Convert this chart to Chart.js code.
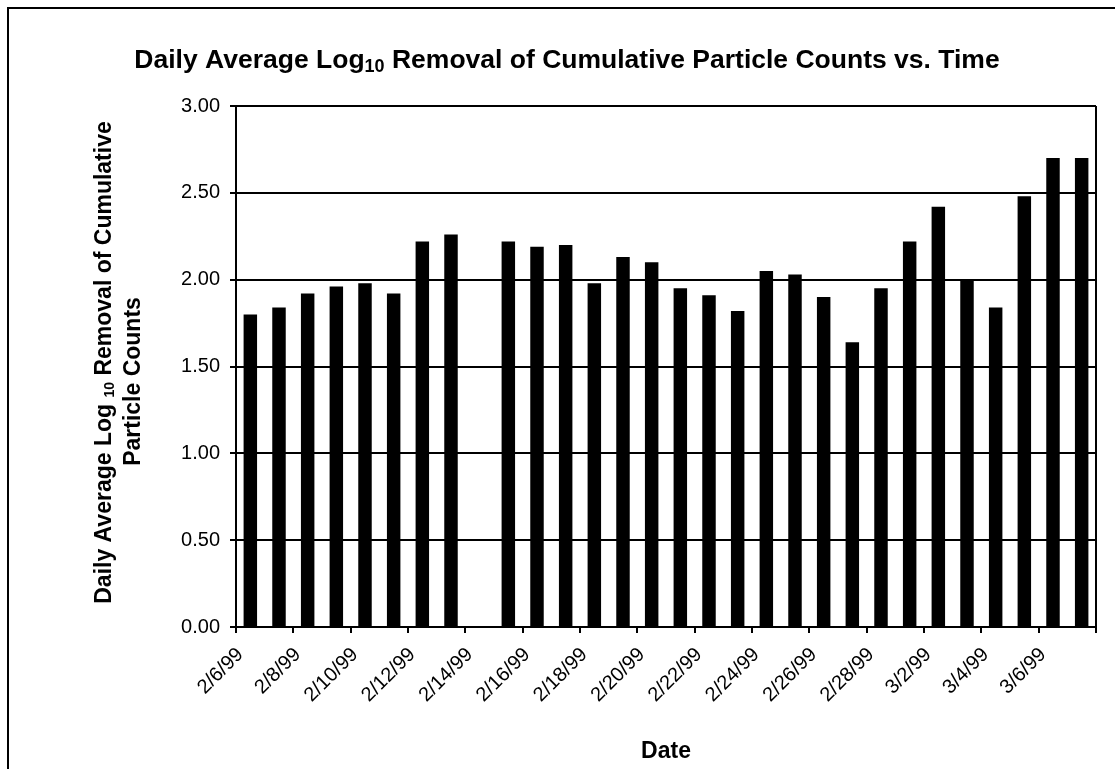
<!DOCTYPE html>
<html>
<head>
<meta charset="utf-8">
<script src="https://cdn.jsdelivr.net/npm/chart.js@4.4.0/dist/chart.umd.min.js"></script>
<style>
    html, body { margin: 0; padding: 0; background: #fff; }
    #cadre { width: 1115px; height: 769px; }
</style>
</head>
<body>
<div id="cadre"><canvas id="graphique"></canvas></div>
<script>
// Dates (one bar per day) and daily average log10 removal
const dates = [
    "2/6/99", "2/7/99", "2/8/99", "2/9/99", "2/10/99", "2/11/99", "2/12/99", "2/13/99",
    "2/14/99", "2/15/99", "2/16/99", "2/17/99", "2/18/99", "2/19/99", "2/20/99", "2/21/99",
    "2/22/99", "2/23/99", "2/24/99", "2/25/99", "2/26/99", "2/27/99", "2/28/99", "3/1/99",
    "3/2/99", "3/3/99", "3/4/99", "3/5/99", "3/6/99", "3/7/99"
];
const removal = [
    1.80, 1.84, 1.92, 1.96, 1.98, 1.92, 2.22, 2.26,
    null, 2.22, 2.19, 2.20, 1.98, 2.13, 2.10, 1.95,
    1.91, 1.82, 2.05, 2.03, 1.90, 1.64, 1.95, 2.22,
    2.42, 2.00, 1.84, 2.48, 2.70, 2.70
];
const yMin = 0;
const yMax = 3;
const yStep = 0.5;

const police = '"Liberation Sans", Arial, sans-serif';

// draw a line of text made of pieces (for the subscript "10")
function texteRiche(ctx, morceaux, cx, y) {
    let total = 0;
    morceaux.forEach(m => {
        ctx.font = "bold " + m.taille + "px " + police;
        total += ctx.measureText(m.t).width;
    });
    let x = cx - total / 2;
    morceaux.forEach(m => {
        ctx.font = "bold " + m.taille + "px " + police;
        ctx.fillText(m.t, x, y + (m.dy || 0));
        x += ctx.measureText(m.t).width;
    });
}

const decor = {
    id: "decor",
    beforeDraw(chart) {
        const ctx = chart.ctx;
        ctx.save();
        ctx.fillStyle = "#fff";
        ctx.fillRect(0, 0, chart.width, chart.height);
        ctx.strokeStyle = "#000";
        ctx.lineWidth = 2;
        ctx.strokeRect(8, 8, chart.width + 20, chart.height + 20);
        ctx.restore();
    },
    afterDraw(chart) {
        const ctx = chart.ctx;
        const a = chart.chartArea;
        ctx.save();
        // right edge of the plot area
        ctx.strokeStyle = "#000";
        ctx.lineWidth = 2;
        ctx.beginPath();
        ctx.moveTo(a.right, a.top);
        ctx.lineTo(a.right, a.bottom);
        ctx.stroke();

        ctx.fillStyle = "#000";
        ctx.textBaseline = "alphabetic";
        ctx.textAlign = "left";

        // main title
        texteRiche(ctx, [
            { t: "Daily Average Log", taille: 26.5 },
            { t: "10", taille: 18, dy: 4 },
            { t: " Removal of Cumulative Particle Counts vs. Time", taille: 26.5 }
        ], 567, 68);

        // x title
        texteRiche(ctx, [{ t: "Date", taille: 23 }], (a.left + a.right) / 2, a.bottom + 131);

        // y title (two lines, rotated)
        const cy = (a.top + a.bottom) / 2;
        ctx.translate(a.left, cy);
        ctx.rotate(-Math.PI / 2);
        texteRiche(ctx, [
            { t: "Daily Average Log ", taille: 23 },
            { t: "10", taille: 14, dy: 3 },
            { t: " Removal of Cumulative", taille: 23 }
        ], 4, -125);
        texteRiche(ctx, [{ t: "Particle Counts", taille: 23 }], -15, -96);
        ctx.restore();
    }
};

const graphique = new Chart(document.getElementById("graphique"), {
    type: "bar",
    data: {
        labels: dates,
        datasets: [{
            label: "Log10 removal",
            data: removal,
            backgroundColor: "#000",
            borderWidth: 0,
            barPercentage: 0.47,
            categoryPercentage: 1
        }]
    },
    options: {
        responsive: true,
        maintainAspectRatio: false,
        animation: false,
        layout: { padding: { left: 176, right: 19, top: 106, bottom: 42 } },
        plugins: {
            legend: { display: false },
            tooltip: { enabled: false },
            title: { display: false }
        },
        scales: {
            x: {
                type: "category",
                offset: true,
                afterFit: s => { s.height = 100; },
                grid: {
                    offset: true,
                    drawOnChartArea: false,
                    drawTicks: true,
                    tickLength: 6,
                    lineWidth: 2,
                    color: c => (c.index === undefined || c.index % 2 === 0) ? "#000" : "rgba(0,0,0,0)"
                },
                border: { display: true, color: "#000", width: 2 },
                ticks: {
                    autoSkip: false,
                    maxRotation: 45,
                    minRotation: 45,
                    labelOffset: -10,
                    padding: 10,
                    color: "#000",
                    font: { family: police, size: 20 },
                    callback: (v, i) => i % 2 === 0 ? dates[i] : ""
                }
            },
            y: {
                min: yMin,
                max: yMax,
                afterFit: s => { s.width = 60; },
                grid: {
                    color: "#000",
                    lineWidth: 2,
                    drawTicks: true,
                    tickLength: 6
                },
                border: { display: true, color: "#000", width: 2 },
                ticks: {
                    stepSize: yStep,
                    padding: 10,
                    color: "#000",
                    font: { family: police, size: 20 },
                    callback: v => Number(v).toFixed(2)
                }
            }
        }
    },
    plugins: [decor]
});
</script>
</body>
</html>
